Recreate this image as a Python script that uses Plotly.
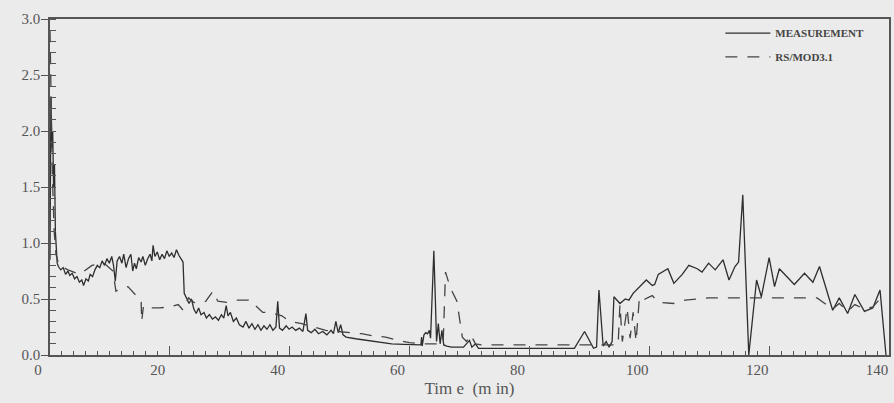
import plotly.graph_objects as go

# ---- data ----
meas_t = [0, 0.15, 0.3, 0.45, 0.6, 0.75, 0.9, 1.05, 1.2,
          1.4, 1.8, 2.2, 2.6, 3.0, 3.3, 3.7, 4.1, 4.5, 4.9, 5.3, 5.6, 6.0, 6.4, 6.7, 7.1, 7.5, 7.9,
          8.3, 8.7, 9.1, 9.5, 9.9, 10.3, 10.6, 10.9, 11.2, 11.6, 12.0, 12.3, 12.7, 13.1, 13.5, 13.8,
          14.1, 14.4, 14.8, 15.2, 15.5, 15.9, 16.3, 16.7, 17.0, 17.2, 17.5, 17.9, 18.3, 18.7, 19.1,
          19.5, 19.9, 20.3, 20.7, 21.1, 21.5, 21.9, 22.2, 22.4, 22.8, 23.2, 23.6, 24.0, 24.4, 24.8,
          25.2, 25.7, 26.1, 26.6, 27.1, 27.6, 28.1, 28.6, 29.0, 29.4, 29.7, 30.1, 30.6, 31.1, 31.6,
          32.2, 32.7, 33.2, 33.7, 34.2, 34.7, 35.2, 35.7, 36.2, 36.7, 37.2, 37.7, 38.0, 38.3, 38.8,
          39.4, 39.9, 40.4, 41.0, 41.6, 42.2, 42.7, 43.0, 43.6, 44.2, 44.8, 45.5, 46.2, 46.9, 47.3,
          47.7, 48.1, 48.5, 48.9, 49.4, 51, 53, 55, 57, 59, 61, 61.9, 62.0, 62.1, 62.4, 62.7, 63.0,
          63.3, 63.5, 63.8, 64.05, 64.3, 64.5, 64.8, 65.1, 65.4, 65.7, 66.2, 67, 68, 69, 70, 70.4,
          71, 71.5, 75, 80, 85, 87.5, 89.2, 90.7, 91.2, 91.6, 92.3, 92.8, 93.3, 93.8, 94.1, 95.1,
          96.0, 96.6, 97.3, 98.2, 99.5, 100.5, 100.9, 101.5, 103.1, 104.1, 105.5, 106.6, 108.0,
          108.8, 109.9, 111.0, 112.3, 113.3, 114.3, 114.9, 115.6, 116.6, 117.9, 118.7, 120.0,
          120.9, 121.7, 124.2, 125.9, 127.3, 128.4, 130.6, 131.7, 133.1, 134.3, 135.9, 137.3,
          138.5, 139.5]
meas_v = [0.85, 2.3, 1.85, 2.0, 1.5, 1.7, 1.1, 1.0, 0.82,
          0.79, 0.76, 0.78, 0.72, 0.75, 0.71, 0.73, 0.68, 0.7, 0.65, 0.67, 0.62, 0.68, 0.66, 0.72, 0.7, 0.76, 0.8,
          0.78, 0.84, 0.8, 0.86, 0.82, 0.88, 0.8, 0.66, 0.84, 0.88, 0.82, 0.9, 0.78, 0.86, 0.9, 0.75,
          0.82, 0.77, 0.87, 0.83, 0.88, 0.8, 0.86, 0.9, 0.84, 0.98, 0.88, 0.92, 0.85, 0.9, 0.86,
          0.93, 0.88, 0.91, 0.87, 0.94, 0.89, 0.86, 0.83, 0.55, 0.5, 0.46, 0.5, 0.41, 0.37, 0.42,
          0.36, 0.38, 0.33, 0.36, 0.32, 0.34, 0.31, 0.36, 0.33, 0.44, 0.35, 0.38, 0.3, 0.33, 0.27,
          0.25, 0.3, 0.24, 0.28, 0.23, 0.27, 0.22, 0.26, 0.23, 0.27, 0.22, 0.25, 0.48, 0.24, 0.22,
          0.26, 0.23, 0.25, 0.22, 0.24, 0.21, 0.37, 0.22, 0.2, 0.23, 0.19, 0.21, 0.18, 0.22, 0.19,
          0.3, 0.2, 0.27, 0.18, 0.16, 0.145, 0.13, 0.115, 0.1, 0.095, 0.09, 0.09, 0.16, 0.08, 0.18, 0.2, 0.19,
          0.22, 0.15, 0.6, 0.93, 0.5, 0.12, 0.28, 0.1, 0.22, 0.09, 0.08, 0.07, 0.07, 0.07, 0.13, 0.07,
          0.1, 0.06, 0.06, 0.06, 0.06, 0.06, 0.21, 0.06, 0.07, 0.58, 0.08, 0.12, 0.07, 0.12, 0.52, 0.46,
          0.5, 0.49, 0.55, 0.6, 0.67, 0.62, 0.63, 0.72, 0.77, 0.64, 0.72, 0.80, 0.77,
          0.74, 0.82, 0.76, 0.85, 0.67, 0.79, 0.83, 1.43, 0.0, 0.67, 0.52, 0.87,
          0.61, 0.77, 0.63, 0.73, 0.65, 0.79, 0.40, 0.51, 0.37, 0.54, 0.39, 0.42,
          0.58, 0.0]

rs_t = [0, 0.2, 0.4, 0.7, 1.0, 1.5, 3, 5, 7, 9, 10.5, 11.0, 12, 13, 14.4, 15.2, 15.3, 15.6, 16.6,
        18.3, 20, 21.4, 22.2, 23.1, 24, 25, 26, 27.2, 28, 29.5, 31, 33.6, 34.5, 35.5, 36.7, 38.7,
        40, 42, 44, 46, 48, 50, 52, 54, 56, 58, 60, 62, 65.6, 66.0, 66.8, 67.9, 68.3, 68.8, 69.5,
        70.2, 71, 72, 80, 88, 94.8, 95.1, 95.5, 96.3, 96.8, 97.3, 97.8, 98.3, 98.8, 99.3, 100.5,
        101.5, 104, 106, 110, 128, 130.6, 131.7, 133.1, 134.3, 135.9, 137.3, 138.5, 139.0]
rs_v = [2.9, 2.2, 1.6, 1.1, 0.9, 0.8, 0.76, 0.72, 0.8, 0.82, 0.75, 0.57, 0.6, 0.61, 0.53, 0.5, 0.3, 0.44, 0.42,
        0.42, 0.43, 0.45, 0.40, 0.51, 0.47, 0.46, 0.48, 0.57, 0.48, 0.47, 0.49, 0.49, 0.43, 0.38, 0.38, 0.35,
        0.3, 0.28, 0.25, 0.22, 0.21, 0.2, 0.19, 0.17, 0.16, 0.13, 0.11, 0.1, 0.1, 0.74, 0.6, 0.48, 0.34, 0.16, 0.12,
        0.18, 0.1, 0.09, 0.09, 0.09, 0.09, 0.45, 0.12, 0.42, 0.15, 0.38, 0.12, 0.48, 0.45, 0.5, 0.53,
        0.47, 0.46, 0.49, 0.51, 0.51, 0.41, 0.46, 0.39, 0.45, 0.41, 0.43, 0.5, 0.47]

x_ticks = [0, 20, 40, 60, 80, 100, 120, 140]
y_ticks = [0.0, 0.5, 1.0, 1.5, 2.0, 2.5, 3.0]

BG = "#ebebeb"
INK = "#555555"
FONT = "Liberation Serif"

fig = go.Figure()
fig.add_trace(go.Scatter(x=meas_t, y=meas_v, mode="lines", name="<b>MEASUREMENT</b>",
                         line=dict(color="#2e2e2e", width=1.3), legend="legend"))
fig.add_trace(go.Scatter(x=rs_t, y=rs_v, mode="lines", name="<b>RS/MOD3.1</b>",
                         line=dict(color="#444444", width=1.3, dash="12px,10px"), legend="legend2"))

leg_common = dict(xanchor="left", yanchor="middle", bgcolor="rgba(0,0,0,0)", itemwidth=45,
                  font=dict(family=FONT, size=11, color="#444444"))

fig.update_layout(
    width=894, height=403,
    margin=dict(l=50, r=3, t=19, b=48),
    paper_bgcolor=BG, plot_bgcolor=BG,
    font=dict(family=FONT, color=INK, size=14),
    showlegend=True,
    legend=dict(x=0.799, y=0.958, **leg_common),
    legend2=dict(x=0.799, y=0.887, **leg_common),
    xaxis=dict(range=[0, 140], tickvals=x_ticks, ticks="inside", ticklen=9, tickwidth=1.2,
               tickcolor=INK, showline=True, linecolor=INK, linewidth=1.5, mirror=True,
               showgrid=False, zeroline=False, ticklabelshift=-12,
               minor=dict(dtick=2, ticks="inside", ticklen=4, tickcolor=INK, showgrid=False),
               tickfont=dict(family=FONT, size=15, color=INK),
               title=dict(text="Tim e  (m in)", font=dict(family=FONT, size=17, color=INK), standoff=5)),
    yaxis=dict(range=[0, 3], tickvals=y_ticks, tickformat=".1f", ticks="outside", ticklen=7,
               tickwidth=1.2, tickcolor=INK, showline=True, linecolor=INK, linewidth=1.5, mirror=True,
               showgrid=False, zeroline=False, ticklabelstandoff=-2,
               minor=dict(dtick=0.1, ticks="inside", ticklen=6, tickcolor=INK, showgrid=False),
               tickfont=dict(family=FONT, size=15, color=INK)),
)

fig.write_html("out.html")
